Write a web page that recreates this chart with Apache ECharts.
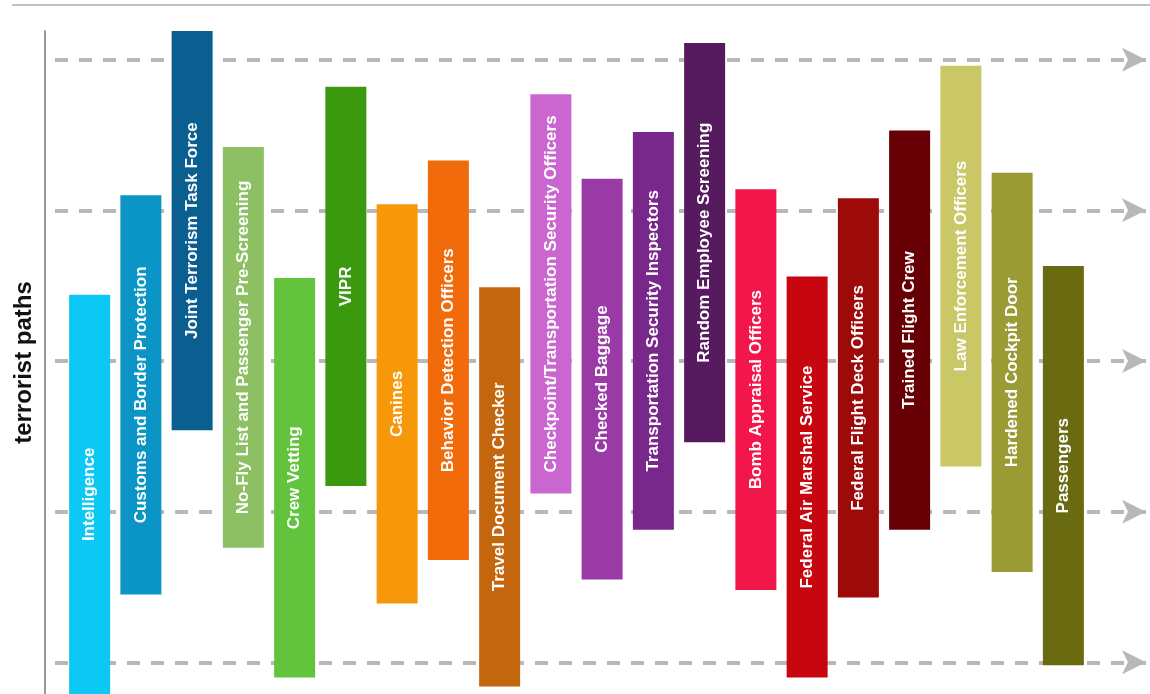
<!DOCTYPE html>
<html>
<head>
<meta charset="utf-8">
<script src="https://cdn.jsdelivr.net/npm/echarts@6/dist/echarts.min.js"></script>
<style>
html,body{margin:0;padding:0;background:#fff;}
#chart{width:1150px;height:694px;}
</style>
</head>
<body>
<div id="chart"></div>
<script>
// Categories (security layers)
const categories = [
  "Intelligence",
  "Customs and Border Protection",
  "Joint Terrorism Task Force",
  "No-Fly List and Passenger Pre-Screening",
  "Crew Vetting",
  "VIPR",
  "Canines",
  "Behavior Detection Officers",
  "Travel Document Checker",
  "Checkpoint/Transportation Security Officers",
  "Checked Baggage",
  "Transportation Security Inspectors",
  "Random Employee Screening",
  "Bomb Appraisal Officers",
  "Federal Air Marshal Service",
  "Federal Flight Deck Officers",
  "Trained Flight Crew",
  "Law Enforcement Officers",
  "Hardened Cockpit Door",
  "Passengers"
];
// Bar extents (bottom and top) in "terrorist path" units
const barBottom = [-0.21, 0.45, 1.54, 0.76, -0.10, 1.17, 0.39, 0.68, -0.16, 1.12, 0.55, 0.88, 1.46, 0.48, -0.10, 0.43, 0.88, 1.30, 0.60, -0.02];
const barTop    = [ 2.44, 3.10, 4.19, 3.42,  2.55, 3.82, 3.04, 3.33,  2.49, 3.77, 3.21, 3.52, 4.11, 3.14,  2.56, 3.08, 3.53, 3.96, 3.25,  2.63];
// Terrorist path lines (dashed arrows)
const pathLevels = [0, 1, 2, 3, 4];
const axisMin = -0.21, axisMax = 4.19;

const palette = ["#0cc8f4","#0b95c6","#0b5f90","#8cc063","#62c43c","#3a990e","#f7980b","#f26b0b","#c4660e",
  "#ca66d0","#9a3aa6","#78288a","#561a5e","#f3164b","#c8060f","#9e0a0a","#670004","#c9c766","#9b9b36","#6a6b10"];

const rangeVals = barTop.map((t, i) => +(t - barBottom[i]).toFixed(3));

const chart = echarts.init(document.getElementById('chart'), null, {renderer: 'canvas'});
const font = "'Liberation Sans', Arial, Helvetica, sans-serif";
chart.setOption({
  animation: false,
  backgroundColor: '#ffffff',
  graphic: [{
    type: 'line', shape: {x1: 12, y1: 5, x2: 1150, y2: 5},
    style: {stroke: '#bcc3c3', lineWidth: 2}, z: 0
  }],
  grid: [
    {left: 64, right: 61, top: 31, bottom: 0},
    {left: 55, right: 4, top: 31, bottom: 0}
  ],
  xAxis: [
    {type: 'category', gridIndex: 0, data: categories, axisLine: {show: false}, axisTick: {show: false}, axisLabel: {show: false}},
    {type: 'value', gridIndex: 1, min: 0, max: 1, show: false}
  ],
  yAxis: [
    {type: 'value', gridIndex: 0, min: axisMin, max: axisMax, offset: 19,
     axisLine: {show: true, lineStyle: {color: '#9a9a9a', width: 2}},
     axisTick: {show: false}, axisLabel: {show: false}, splitLine: {show: false},
     name: 'terrorist paths', nameLocation: 'middle', nameGap: 9,
     nameTextStyle: {fontFamily: font, fontWeight: 'bold', fontSize: 24, color: '#111'}},
    {type: 'value', gridIndex: 1, min: axisMin, max: axisMax, show: false}
  ],
  series: [
    {
      type: 'line', xAxisIndex: 1, yAxisIndex: 1, data: [], z: 0, silent: true,
      markLine: {
        silent: true, z: 0,
        symbol: ['none', 'arrow'], symbolSize: [18, 24],
        label: {show: false},
        lineStyle: {type: [13, 11], color: '#b8b8b8', width: 4},
        emphasis: {disabled: true},
        data: pathLevels.map(v => ({yAxis: v}))
      }
    },
    {
      type: 'bar', name: 'base', stack: 'r', stackStrategy: 'all',
      xAxisIndex: 0, yAxisIndex: 0, barWidth: 41, z: 2,
      itemStyle: {color: 'transparent'}, silent: true,
      data: barBottom
    },
    {
      type: 'bar', name: 'range', stack: 'r', stackStrategy: 'all',
      xAxisIndex: 0, yAxisIndex: 0, barWidth: 41, z: 3,
      itemStyle: {color: p => palette[p.dataIndex]},
      label: {
        show: true, position: 'inside', rotate: 90,
        formatter: p => categories[p.dataIndex],
        color: '#ffffff', fontFamily: font, fontWeight: 'bold', fontSize: 17
      },
      data: rangeVals
    }
  ]
});
</script>
</body>
</html>
